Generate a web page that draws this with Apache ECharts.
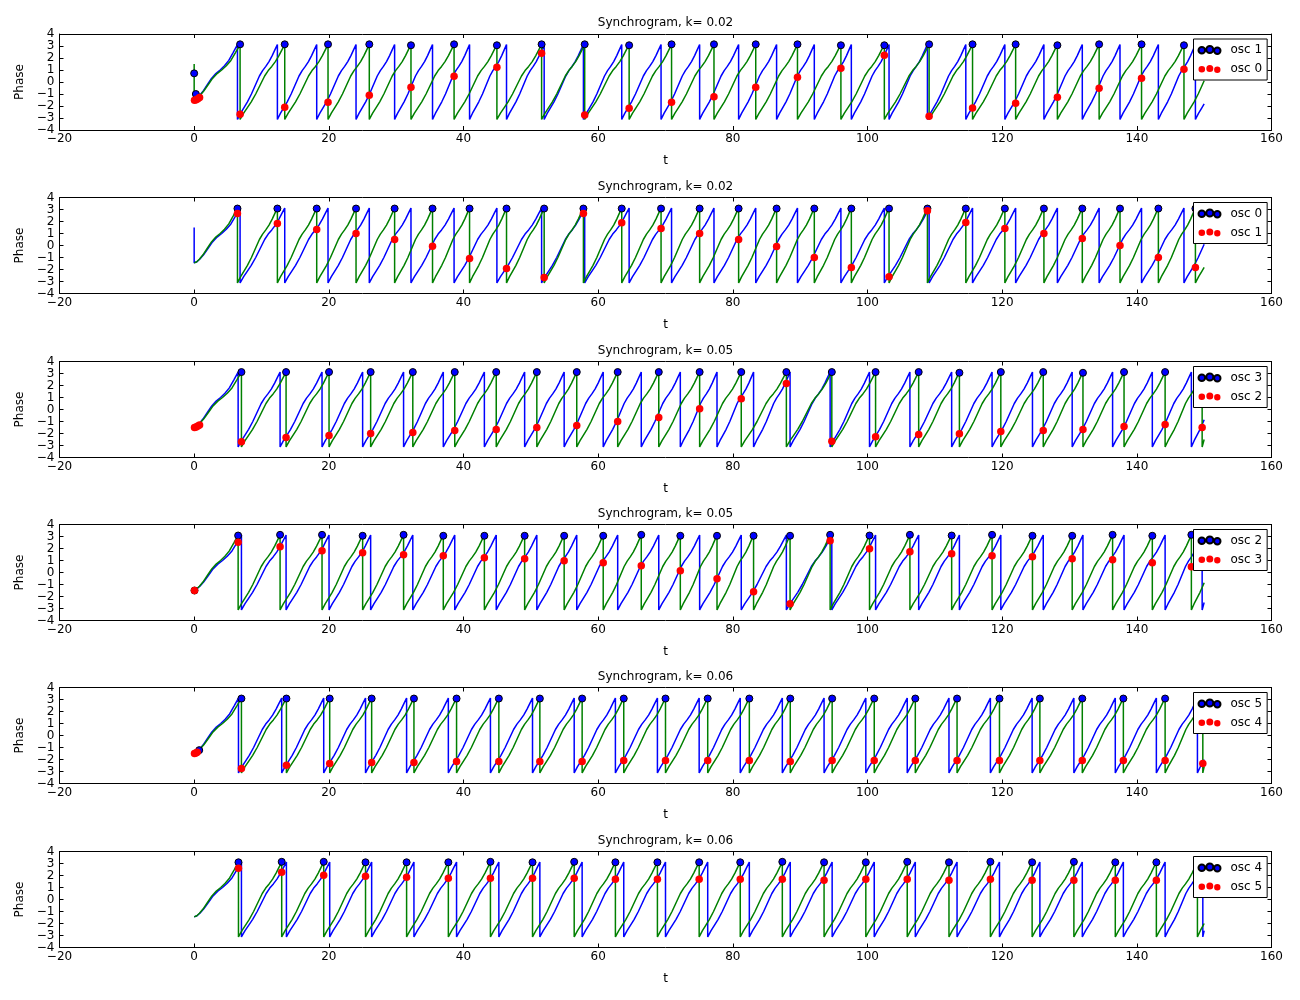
<!DOCTYPE html>
<html><head><meta charset="utf-8">
<script src="https://cdn.jsdelivr.net/npm/echarts@6/dist/echarts.min.js"></script>
<style>html,body{margin:0;padding:0;background:#fff;}#chart{width:1300px;height:1000px;}</style>
</head><body><div id="chart"></div>
<script>
// ---------------- data ----------------
const panelTitles = ['Synchrogram, k= 0.02','Synchrogram, k= 0.02','Synchrogram, k= 0.05','Synchrogram, k= 0.05','Synchrogram, k= 0.06','Synchrogram, k= 0.06'];
const legendNames = [['osc 1','osc 0'],['osc 0','osc 1'],['osc 3','osc 2'],['osc 2','osc 3'],['osc 5','osc 4'],['osc 4','osc 5']];
// [blue line oscillator, green line oscillator] per panel
const panelLines = [[0,1],[1,0],[2,3],[3,2],[4,5],[5,4]];

// times at which each oscillator's phase wraps from +pi to -pi
const resets0 = [6.43,12.36,18.20,24.04,29.77,35.4,40.9,46.39,51.98,57.81,63.5,69.34,75.07,80.86,86.5,92.1,97.6,103.2,108.9,114.6,120.4,126.2,131.9,137.5,143.2,148.7];
const resets1 = [6.82,13.45,19.88,26.01,32.2,38.6,44.96,51.6,58.0,64.6,70.9,77.2,83.4,89.6,96.05,102.5,109.15,115.6,122.0,128.2,134.4,140.7,147.0];
const resets2 = [6.53,12.76,18.99,25.02,31.1,37.0,43.1,49.08,54.95,60.75,66.4,72.2,77.65,83.08,88.5,94.45,100.3,106.3,112.5,118.5,124.5,130.4,136.4,142.3,148.1];
const resets3 = [7.02,13.65,20.03,26.21,32.47,38.7,44.86,50.89,56.82,62.9,69.0,75.07,81.25,87.95,94.7,101.2,107.6,113.65,119.8,126.1,132.0,138.1,144.2,149.7];
const resets4 = [6.58,13.0,19.24,25.45,31.55,37.75,44.0,50.25,56.44,62.56,68.8,75.0,81.1,87.35,93.55,99.75,105.9,112.1,118.25,124.45,130.65,136.8,142.9,149.0];
const resets5 = [7.02,13.7,20.13,26.36,32.64,38.97,45.25,51.34,57.62,63.8,70.0,76.27,82.45,88.53,94.75,101.0,107.1,113.3,119.6,125.6,131.9,138.0,144.2,149.8];
const resets = [resets0,resets1,resets2,resets3,resets4,resets5];

// phase at t = 0 spike (only osc 1 starts high), and phase at the last sample t = 150
const startSpike = [null, 1.5, null, null, null, null];
const endPhase = [-1.83, 0.1, -0.85, -2.5, -2.0, -2.6];
const tEnd = 150;

// shape of the first (partial) rise: [fraction of time to first wrap, phase]
const initShape = [[0,-1.45],[0.06,-1.35],[0.12,-1.15],[0.2,-0.8],[0.3,-0.25],[0.4,0.3],[0.5,0.7],[0.6,1.0],[0.7,1.35],[0.8,1.8],[0.9,2.45],[1.0,3.12]];
// shape of one full cycle: [fraction of cycle, phase]
const cycleShape = [[0,-3.12],[0.08,-2.6],[0.16,-2.15],[0.25,-1.65],[0.35,-1.0],[0.45,-0.25],[0.55,0.5],[0.63,0.95],[0.71,1.3],[0.79,1.7],[0.87,2.2],[0.94,2.7],[1.0,3.12]];

// synchrogram points: x = wrap times of the green (reference) oscillator
const dotBlueY = [
  [3.14,3.14,3.14,3.14,3.06,3.14,3.06,3.14,3.14,3.06,3.14,3.14,3.14,3.14,3.06,3.06,3.14,3.14,3.14,3.06,3.14,3.14,3.06],
  [3.08,3.08,3.08,3.08,3.08,3.08,3.08,3.08,3.08,3.08,3.08,3.08,3.08,3.08,3.08,3.08,3.08,3.08,3.08,3.08,3.08,3.08,3.08,3.08,3.08,3.08],
  [3.12,3.12,3.12,3.12,3.12,3.12,3.12,3.12,3.12,3.12,3.12,3.12,3.12,3.12,3.12,3.12,3.12,3.06,3.12,3.12,3.06,3.12,3.12,3.12],
  [3.08,3.14,3.14,3.06,3.14,3.06,3.06,3.06,3.06,3.06,3.14,3.06,3.06,3.06,3.06,3.14,3.08,3.14,3.08,3.14,3.06,3.06,3.14,3.06,3.14],
  [3.08,3.08,3.08,3.08,3.08,3.08,3.08,3.08,3.08,3.08,3.08,3.08,3.08,3.08,3.08,3.08,3.08,3.08,3.08,3.08,3.08,3.08,3.08,3.08],
  [3.1,3.14,3.14,3.1,3.1,3.1,3.14,3.1,3.14,3.1,3.1,3.1,3.1,3.14,3.1,3.1,3.14,3.1,3.14,3.1,3.14,3.1,3.1,3.1]
];
const dotRedY = [
  [-2.69,-2.11,-1.69,-1.11,-0.44,0.47,1.22,2.39,-2.75,-2.19,-1.69,-1.22,-0.44,0.39,1.14,2.22,-2.86,-2.17,-1.78,-1.28,-0.53,0.31,1.06],
  [2.67,1.83,1.33,1.0,0.5,-0.06,-1.08,-1.92,-2.67,2.67,1.89,1.42,1.0,0.5,-0.08,-1.0,-1.83,-2.61,2.89,1.92,1.42,1.0,0.58,0.0,-1.0,-1.83],
  [-2.69,-2.33,-2.17,-2.0,-1.92,-1.75,-1.67,-1.5,-1.33,-1.0,-0.67,0.06,0.89,2.17,-2.64,-2.28,-2.08,-2.03,-1.83,-1.75,-1.67,-1.42,-1.25,-1.5],
  [2.53,2.14,1.81,1.64,1.47,1.39,1.22,1.14,0.97,0.81,0.56,0.14,-0.53,-1.61,-2.61,2.64,1.97,1.72,1.56,1.39,1.31,1.14,1.06,0.81,0.47],
  [-2.75,-2.47,-2.33,-2.25,-2.25,-2.17,-2.17,-2.17,-2.17,-2.08,-2.08,-2.08,-2.08,-2.17,-2.08,-2.08,-2.08,-2.08,-2.08,-2.08,-2.08,-2.08,-2.08,-2.33],
  [2.61,2.28,2.03,1.94,1.86,1.78,1.78,1.78,1.78,1.69,1.69,1.69,1.69,1.69,1.61,1.69,1.69,1.61,1.69,1.61,1.61,1.61,1.61,1.6]
];
// extra points at the very start (t near 0)
const startBlueDots = [[[0.0,0.72],[0.25,-1.0]],[],[],[[0.05,-1.5]],[[0.75,-1.22]],[]];
const startRedDots = [[[0.05,-1.52],[0.3,-1.48],[0.55,-1.4],[0.8,-1.3]],[],[[0.05,-1.5],[0.3,-1.45],[0.55,-1.38],[0.8,-1.3]],[[0.05,-1.5]],[[0.05,-1.5],[0.25,-1.46],[0.45,-1.4]],[]];

const xMin = -20, xMax = 160, xStep = 20;
const yMin = -4, yMax = 4, yStep = 1;

// ---------------- build ----------------
function buildLine(k) {
  const r = resets[k];
  const pts = [];
  if (startSpike[k] !== null) pts.push([0, startSpike[k]]);
  initShape.forEach(([f, ph]) => pts.push([f * r[0], ph]));
  for (let i = 0; i < r.length - 1; i++) {
    cycleShape.forEach(([f, ph]) => pts.push([r[i] + f * (r[i+1] - r[i]), ph]));
  }
  const last = r[r.length - 1], e = endPhase[k];
  let fe = 1;
  for (let j = 1; j < cycleShape.length; j++) {
    const [f0, p0] = cycleShape[j-1], [f1, p1] = cycleShape[j];
    if (e >= p0 && e <= p1) { fe = f0 + (e - p0) / (p1 - p0) * (f1 - f0); break; }
  }
  cycleShape.forEach(([f, ph]) => { if (f < fe) pts.push([last + f / fe * (tEnd - last), ph]); });
  pts.push([tEnd, e]);
  return pts;
}

const FONT = 'DejaVu Sans';
const tops = [34, 197.5, 361.5, 524.5, 687.5, 851.5];
const gridLeft = 59.5, gridW = 1212, gridH = 96;
const minus = v => (v < 0 ? '\u2212' + Math.abs(v) : String(v));

const grid = [], xAxis = [], yAxis = [], series = [], title = [], legend = [];
const dotsPath = 'path://M0.2,4a3.3,3.3 0 1,0 6.6,0a3.3,3.3 0 1,0 -6.6,0Z M8,3.3a3.5,3.5 0 1,0 7,0a3.5,3.5 0 1,0 -7,0Z M15.8,4.6a3.2,3.2 0 1,0 6.4,0a3.2,3.2 0 1,0 -6.4,0Z';

for (let p = 0; p < 6; p++) {
  grid.push({left: gridLeft, top: tops[p], width: gridW, height: gridH, show: false});
  const axLine = {show: true, onZero: false, lineStyle: {color: '#000', width: 1}};
  const tick = {show: true, inside: true, length: 4, lineStyle: {color: '#000', width: 1}};
  xAxis.push({type: 'value', gridIndex: p, position: 'bottom', min: xMin, max: xMax, interval: xStep,
    axisLine: axLine, axisTick: tick, splitLine: {show: false},
    axisLabel: {color: '#000', fontSize: 12, fontFamily: FONT, margin: 3, formatter: minus},
    name: 't', nameLocation: 'middle', nameGap: 25, nameTextStyle: {color: '#000', fontSize: 12, fontFamily: FONT}});
  xAxis.push({type: 'value', gridIndex: p, position: 'top', min: xMin, max: xMax, interval: xStep,
    axisLine: axLine, axisTick: tick, splitLine: {show: false}, axisLabel: {show: false}});
  yAxis.push({type: 'value', gridIndex: p, position: 'left', min: yMin, max: yMax, interval: yStep,
    axisLine: axLine, axisTick: tick, splitLine: {show: false},
    axisLabel: {color: '#000', fontSize: 12, fontFamily: FONT, margin: 5, formatter: minus},
    name: 'Phase', nameLocation: 'middle', nameGap: 26, nameRotate: 90, nameTextStyle: {color: '#000', fontSize: 12, fontFamily: FONT}});
  yAxis.push({type: 'value', gridIndex: p, position: 'right', min: yMin, max: yMax, interval: yStep,
    axisLine: axLine, axisTick: tick, splitLine: {show: false}, axisLabel: {show: false}});

  const [bo, go] = panelLines[p];
  const ax = {xAxisIndex: 2 * p, yAxisIndex: 2 * p};
  series.push(Object.assign({type: 'line', name: 'blue' + p, data: buildLine(bo), showSymbol: false, symbol: 'none',
    lineStyle: {color: '#0000ff', width: 1.5}, itemStyle: {color: '#0000ff'}, z: 2, silent: true}, ax));
  series.push(Object.assign({type: 'line', name: 'green' + p, data: buildLine(go), showSymbol: false, symbol: 'none',
    lineStyle: {color: '#008000', width: 1.5}, itemStyle: {color: '#008000'}, z: 2, silent: true}, ax));

  const refT = resets[go];
  const blueDots = startBlueDots[p].concat(dotBlueY[p].map((y, i) => [refT[i], y]));
  const redDots = startRedDots[p].concat(dotRedY[p].map((y, i) => [refT[i], y]));
  const nB = p + '|' + legendNames[p][0], nR = p + '|' + legendNames[p][1];
  series.push(Object.assign({type: 'scatter', name: nB, data: blueDots, symbol: 'circle', symbolSize: 7,
    itemStyle: {color: '#0000ff', borderColor: '#000', borderWidth: 1, opacity: 1}, z: 3, silent: true}, ax));
  series.push(Object.assign({type: 'scatter', name: nR, data: redDots, symbol: 'circle', symbolSize: 7.5,
    itemStyle: {color: '#ff0000', borderWidth: 0, opacity: 1}, z: 4, silent: true}, ax));

  title.push({text: panelTitles[p], left: gridLeft + gridW / 2, top: tops[p] - 17, textAlign: 'center', padding: 0,
    textStyle: {color: '#000', fontSize: 12, fontWeight: 'normal', fontFamily: FONT}});
  legend.push({data: [nB, nR], orient: 'vertical', left: 1193.5, top: tops[p] + 5, selectedMode: false,
    backgroundColor: '#fff', borderColor: '#000', borderWidth: 1, padding: [4, 5, 4, 4], itemGap: 5,
    itemWidth: 22, itemHeight: 8, icon: dotsPath, z: 10,
    formatter: n => n.split('|')[1],
    textStyle: {color: '#000', fontSize: 12, fontFamily: FONT, lineHeight: 14, padding: [0, 0, 0, 5]}});
}

const chart = echarts.init(document.getElementById('chart'), null, {renderer: 'canvas'});
chart.setOption({animation: false, backgroundColor: '#fff', grid, xAxis, yAxis, series, title, legend});
</script></body></html>
